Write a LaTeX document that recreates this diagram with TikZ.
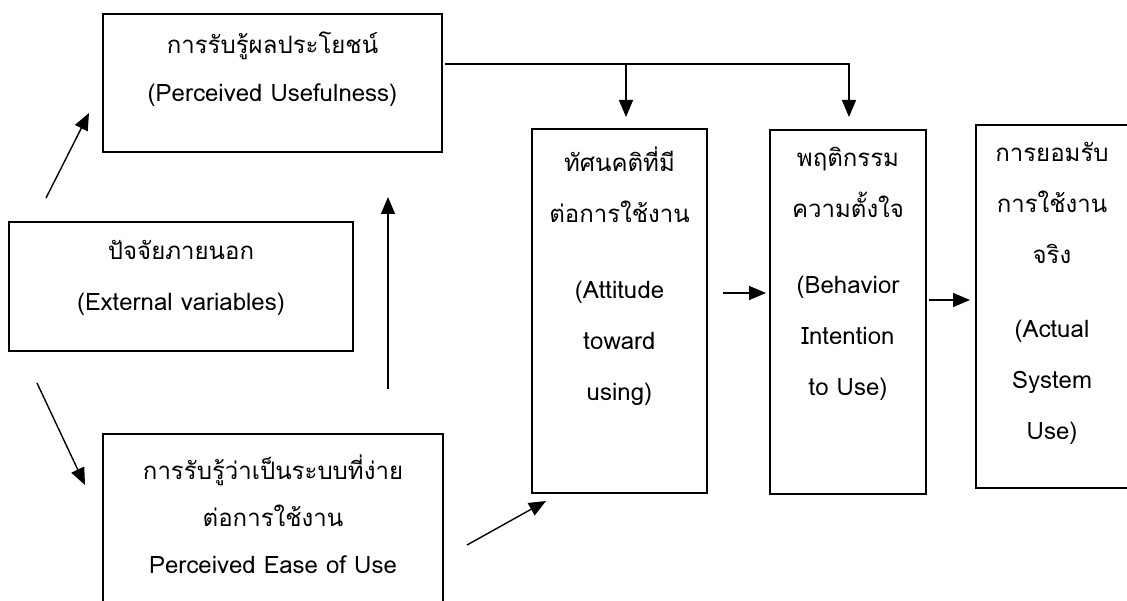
\documentclass[tikz,border=0pt]{standalone}
\usepackage{fontspec}
\setmainfont[Script=Thai]{Loma}
\usetikzlibrary{arrows.meta,positioning}

\begin{document}
\begin{tikzpicture}[x=1pt,y=-1pt,
    frame/.style={draw, line width=1.6pt, inner sep=0pt},
    txt/.style={align=center, inner sep=0pt, font=\fontsize{24}{51}\selectfont},
    arrow/.style={line width=1.4pt, -{Triangle[length=17pt,width=14pt]}}]
  \useasboundingbox (0,0) rectangle (1127,601);
  \clip (0,0) rectangle (1127,601);

  % boxes
  \node[frame, minimum width=339pt, minimum height=138pt] (pu) at (272.5,83) {};
  \node[frame, minimum width=344pt, minimum height=129pt] (ext) at (181,286.5) {};
  \node[frame, minimum width=340pt, minimum height=206pt] (peou) at (273,537) {};
  \node[frame, minimum width=175pt, minimum height=364pt] (att) at (619.5,311) {};
  \node[frame, minimum width=156pt, minimum height=364pt] (bi) at (848,312) {};
  \node[frame, minimum width=154pt, minimum height=363pt] (act) at (1053,306.5) {};

  % texts
  \node[txt, anchor=north] (pu-txt) at (272.5,32) {การรับรู้ผลประโยชน์\\[-3pt](Perceived Usefulness)};
  \node[txt, anchor=north] (ext-txt) at (181,240) {ปัจจัยภายนอก\\(External variables)};
  \node[txt, anchor=north] (peou-txt) at (273,455) {การรับรู้ว่าเป็นระบบที่ง่าย\\[-4pt]ต่อการใช้งาน\\[-4pt]Perceived Ease of Use};
  \node[txt, anchor=north] (att-txt) at (619.5,147) {ทัศนคติที่มี\\ต่อการใช้งาน\\[25pt](Attitude\\toward\\using)};
  \node[txt, anchor=north] (bi-txt) at (848,147) {พฤติกรรม\\ความตั้งใจ\\[25pt](Behavior\\Intention\\to Use)};
  \node[txt, anchor=north] (act-txt) at (1052,142) {การยอมรับ\\การใช้งาน\\จริง\\[23pt](Actual\\System\\Use)};

  % arrow ends
  \coordinate (pu-out) at (445,64);
  \coordinate (fork) at (626,64);
  \coordinate (att-in) at (626,117);
  \coordinate (bi-in) at (849,117);
  \coordinate (ext-up) at (46,198);
  \coordinate (pu-in) at (89,113);
  \coordinate (ext-down) at (37,383);
  \coordinate (peou-in) at (85,485);
  \coordinate (peou-up) at (388,389);
  \coordinate (pu-below) at (388,197);
  \coordinate (peou-out) at (467,545);
  \coordinate (att-low) at (546,501);
  \coordinate (att-out) at (723,293);
  \coordinate (bi-left) at (766,293);
  \coordinate (bi-out) at (929,300);
  \coordinate (act-left) at (970,300);

  % connectors
  \draw[arrow] (pu-out) -| (bi-in);
  \draw[arrow] (fork) -- (att-in);
  \draw[arrow] (ext-up) -- (pu-in);
  \draw[arrow] (ext-down) -- (peou-in);
  \draw[arrow] (peou-up) -- (pu-below);
  \draw[arrow] (peou-out) -- (att-low);
  \draw[arrow] (att-out) -- (bi-left);
  \draw[arrow] (bi-out) -- (act-left);
\end{tikzpicture}
\end{document}
